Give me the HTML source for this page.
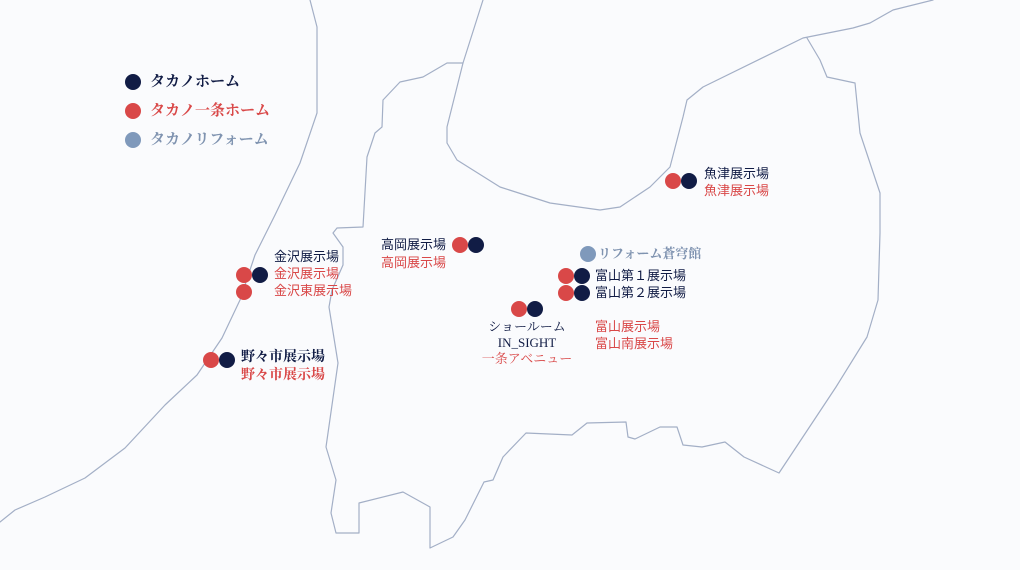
<!DOCTYPE html>
<html><head><meta charset="utf-8"><style>
html,body{margin:0;padding:0;background:#fafbfd;}
body{width:1020px;height:570px;position:relative;overflow:hidden;}
svg{position:absolute;left:0;top:0;}
.t{position:absolute;font-family:"Liberation Sans","Noto Sans CJK JP",sans-serif;font-size:13px;line-height:17px;white-space:nowrap;}
.s{font-family:"Liberation Serif","Noto Serif CJK SC",serif;}
.n{color:#111c45}.r{color:#d94848}.g{color:#7f93b0}
</style></head><body>
<svg width="1020" height="570" viewBox="0 0 1020 570">
<g fill="none" stroke="#a3afc6" stroke-width="1.2" stroke-linejoin="round" stroke-linecap="round">
<path d="M310,0 L317,27 L317,113 L300,163 L275,215 L255,255 L240,300 L222,338 L197,375 L165,405 L125,448 L85,478 L45,497 L15,510 L0,522"/>
<path d="M463,63 L447,63 L423,77 L400,82 L383,100 L382,127 L375,133 L367,157 L363,227 L337,228 L333,233 L343,247 L343,265 L332,290 L329,307 L338,363 L326,447 L336,480 L331,513 L336,533 L359,533 L359,503 L403,492 L430,507 L430,548 L453,537 L465,520 L484,482 L493,480 L503,457 L526,433 L572,435 L587,423 L626,422 L628,437 L635,439 L660,427 L677,427 L683,445 L702,447 L725,442 L744,457 L779,473 L836,387 L867,337 L878,300 L880,233 L880,193 L860,133 L855,83 L827,77 L820,60 L807,38"/>
<path d="M483,0 L463,63 L447,127 L447,143 L457,160 L500,187 L550,203 L600,210 L620,207 L650,187 L670,167 L683,117 L687,100 L703,87 L803,38 L853,28 L870,23 L893,10 L933,0"/>
</g>
<g>
<circle cx="133" cy="82" r="8" fill="#111c45"/>
<circle cx="133" cy="111" r="8" fill="#d94848"/>
<circle cx="133" cy="140" r="8" fill="#7f99bb"/>
<circle cx="673" cy="181" r="8" fill="#d94848"/><circle cx="689" cy="181" r="8" fill="#111c45"/>
<circle cx="460" cy="245" r="8" fill="#d94848"/><circle cx="476" cy="245" r="8" fill="#111c45"/>
<circle cx="244" cy="275" r="8" fill="#d94848"/><circle cx="260" cy="275" r="8" fill="#111c45"/>
<circle cx="244" cy="292" r="8" fill="#d94848"/>
<circle cx="211" cy="360" r="8" fill="#d94848"/><circle cx="227" cy="360" r="8" fill="#111c45"/>
<circle cx="588" cy="254" r="8" fill="#7f99bb"/>
<circle cx="566" cy="276" r="8" fill="#d94848"/><circle cx="582" cy="276" r="8" fill="#111c45"/>
<circle cx="566" cy="293" r="8" fill="#d94848"/><circle cx="582" cy="293" r="8" fill="#111c45"/>
<circle cx="519" cy="309" r="8" fill="#d94848"/><circle cx="535" cy="309" r="8" fill="#111c45"/>
</g>
</svg>
<div class="t s n" style="left:150px;top:72px;font-size:15px;line-height:20px;font-weight:bold">タカノホーム</div>
<div class="t s r" style="left:150px;top:101px;font-size:15px;line-height:20px;font-weight:bold">タカノ一条ホーム</div>
<div class="t s g" style="left:150px;top:130px;font-size:15px;line-height:20px;font-weight:bold">タカノリフォーム</div>

<div class="t" style="left:704px;top:165px"><span class="n">魚津展示場</span><br><span class="r">魚津展示場</span></div>
<div class="t" style="left:381px;top:236px;line-height:18px"><span class="n">高岡展示場</span><br><span class="r">高岡展示場</span></div>
<div class="t" style="left:274px;top:248px;line-height:17px"><span class="n">金沢展示場</span><br><span class="r">金沢展示場</span><br><span class="r">金沢東展示場</span></div>
<div class="t s" style="left:241px;top:349px;font-size:14px;line-height:18px;font-weight:bold"><span class="n">野々市展示場</span><br><span class="r">野々市展示場</span></div>
<div class="t s g" style="left:598px;top:245px;font-size:13px;font-weight:bold">リフォーム蒼穹館</div>
<div class="t n" style="left:595px;top:267px;line-height:17px">富山第１展示場<br>富山第２展示場</div>
<div class="t s" style="left:467px;top:319px;width:120px;text-align:center;font-size:13px;line-height:16px"><span class="n">ショールーム</span><br><span class="n">IN_SIGHT</span><br><span class="r">一条アベニュー</span></div>
<div class="t r" style="left:595px;top:318px;line-height:17px">富山展示場<br>富山南展示場</div>
</body></html>
